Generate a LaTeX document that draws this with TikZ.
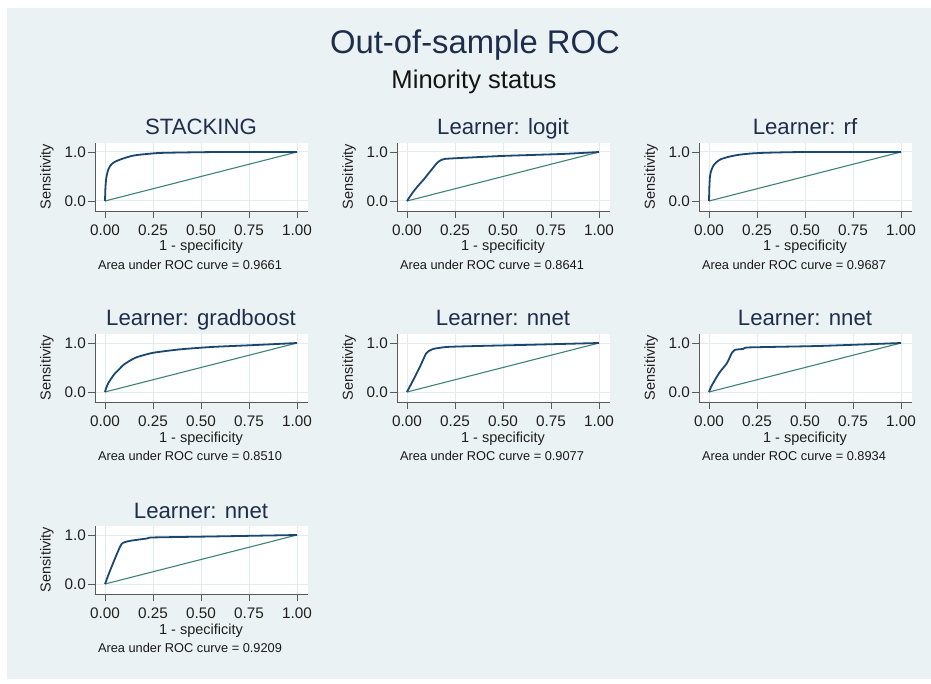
\documentclass[tikz,border=0pt]{standalone}
\usepackage{fontspec}
\setmainfont{Liberation Sans}
\usetikzlibrary{positioning}
\definecolor{graphbg}{HTML}{EAF2F3}
\definecolor{gridln}{HTML}{E2EBED}
\definecolor{rocnavy}{HTML}{1A476F}
\definecolor{refgreen}{HTML}{3E8474}
\definecolor{titletxt}{HTML}{1F2D4D}
\definecolor{axisgray}{HTML}{5A5A5A}

% one ROC panel: name, x0, y0 (pixel of data origin), title, area, curve
\newcommand{\rocpanel}[6]{%
  \begin{scope}[shift={(#2,#3)}]
    % plot region and grid
    \fill[white] (-10,10) rectangle (203,-58);
    \foreach \gx in {0,48,96,144,192}
      \draw[gridline] (\gx,10) -- (\gx,-58);
    \foreach \gy in {0,-49}
      \draw[gridline] (-10,\gy) -- (203,\gy);
    % axes and ticks
    \draw[axisline] (-10,-58) -- (-10,10) -- (203,10);
    \foreach \gy/\ylbl in {0/0.0,-49/1.0} {
      \draw[axisline] (-17,\gy) -- (-10,\gy);
      \node[ticklbl, anchor=east] (#1-y\ylbl) at (-19,\gy) {\ylbl};
    }
    \foreach \gx/\xlbl in {0/0.00,48/0.25,96/0.50,144/0.75,192/1.00} {
      \draw[axisline] (\gx,10) -- (\gx,17);
      \node[ticklbl] (#1-x\xlbl) at (\gx,29.5) {\xlbl};
    }
    \node[axislbl, rotate=90] (#1-ytitle) at (-58,-24.5) {Sensitivity};
    \node[axislbl, anchor=base] (#1-xtitle) at (96,50) {1 - specificity};
    \node[notelbl, anchor=base] (#1-auc) at (85,68.5) {Area under ROC curve = #5};
    \node[paneltitle, anchor=base] (#1-title) at (96,-66) {#4};
    % curves
    \begin{scope}[x=192pt, y=49pt]
      \draw[refline] (0,0) -- (1,1);
      \draw[rocline] plot[smooth, tension=0.35] coordinates {#6};
    \end{scope}
  \end{scope}}

\begin{document}
\begin{tikzpicture}[
  x=1pt, y=-1pt,
  gridline/.style={gridln, line width=1pt},
  axisline/.style={axisgray, line width=0.9pt},
  refline/.style={refgreen, line width=1.1pt},
  rocline/.style={rocnavy, line width=1.8pt, line join=round},
  ticklbl/.style={font=\fontsize{15.3}{17}\selectfont, text=black!88, inner sep=0pt},
  axislbl/.style={font=\fontsize{14.5}{16}\selectfont, text=black!88, inner sep=0pt},
  notelbl/.style={font=\fontsize{12.8}{14}\selectfont, text=black!90, inner sep=0pt},
  paneltitle/.style={font=\fontsize{22.2}{24}\selectfont, text=titletxt, inner sep=0pt}
]
  \useasboundingbox (0,0) rectangle (931,684);
  \fill[graphbg] (7,8) rectangle (931,679);

  % --- titles ---
  \node[font=\fontsize{32.8}{36}\selectfont, text=titletxt, inner sep=0pt, anchor=base] (title) at (475,53.5) {Out-of-sample ROC};
  \node[font=\fontsize{25.6}{28}\selectfont, text=black!92, inner sep=0pt, anchor=base] (subtitle) at (474,88.5) {Minority status};

  % --- row 1 ---
  \rocpanel{stack}{105}{201}{STACKING}{0.9661}{(0,0) (0.002,0.25) (0.005,0.42) (0.009,0.52) (0.016,0.63) (0.026,0.71) (0.04,0.77) (0.052,0.8) (0.075,0.84) (0.104,0.88) (0.14,0.92) (0.17,0.94) (0.22,0.96) (0.28,0.98) (0.4,0.99) (0.6,1) (1,1)}
  \rocpanel{logit}{407}{201}{Learner: logit}{0.8641}{(0,0) (0.01,0.06) (0.033,0.19) (0.06,0.32) (0.085,0.43) (0.12,0.6) (0.155,0.77) (0.175,0.83) (0.2,0.86) (0.29,0.88) (0.5,0.92) (0.81,0.96) (1,1)}
  \rocpanel{rf}{709}{201}{Learner: rf}{0.9687}{(0,0) (0.002,0.3) (0.005,0.5) (0.01,0.6) (0.02,0.7) (0.035,0.78) (0.06,0.85) (0.1,0.9) (0.15,0.94) (0.22,0.97) (0.3,0.985) (0.5,1) (1,1)}

  % --- row 2 ---
  \rocpanel{gboost}{105}{392}{Learner: gradboost}{0.8510}{(0,0) (0.005,0.07) (0.017,0.18) (0.035,0.29) (0.052,0.38) (0.075,0.47) (0.095,0.55) (0.13,0.64) (0.165,0.71) (0.25,0.8) (0.39,0.87) (0.56,0.92) (0.79,0.96) (1,1)}
  \rocpanel{nnetA}{407}{392}{Learner: nnet}{0.9077}{(0,0) (0.005,0.04) (0.024,0.18) (0.045,0.34) (0.068,0.52) (0.1,0.79) (0.12,0.85) (0.137,0.88) (0.21,0.92) (0.38,0.94) (0.6,0.96) (1,1)}
  \rocpanel{nnetB}{709}{392}{Learner: nnet}{0.8934}{(0,0) (0.01,0.1) (0.03,0.24) (0.057,0.41) (0.092,0.58) (0.105,0.68) (0.118,0.79) (0.135,0.86) (0.18,0.88) (0.21,0.91) (0.58,0.94) (1,1)}

  % --- row 3 ---
  \rocpanel{nnetC}{105}{584}{Learner: nnet}{0.9209}{(0,0) (0.005,0.05) (0.017,0.18) (0.052,0.52) (0.087,0.82) (0.13,0.88) (0.22,0.93) (0.25,0.95) (0.56,0.97) (1,1)}

\end{tikzpicture}
\end{document}
